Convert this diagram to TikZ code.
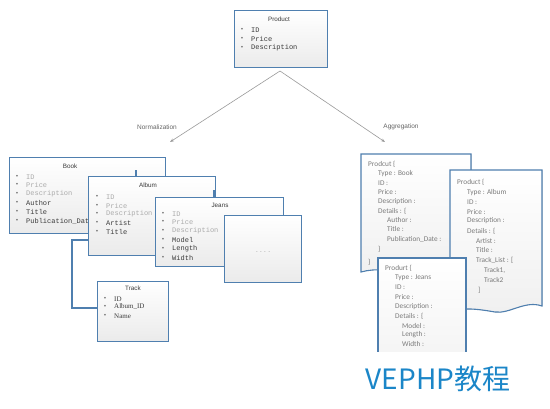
\documentclass[tikz,border=0pt]{standalone}
\usepackage{fontspec}
\setmainfont{Liberation Serif}
\newfontfamily\monof{Liberation Mono}
\newfontfamily\calib{Carlito}
\newfontfamily\cjkf{Noto Sans CJK SC}
\newfontfamily\sansf{Liberation Sans}
\usetikzlibrary{arrows.meta}
\definecolor{boxblue}{HTML}{4F7FAF}
\definecolor{darktxt}{HTML}{3A3A3A}
\definecolor{lighttxt}{HTML}{ABABAB}
\definecolor{doctxt}{HTML}{7A7A7A}
\definecolor{wmblue}{HTML}{1B86C8}
\definecolor{arrowgray}{HTML}{9A9A9A}
\tikzset{
  boxst/.style={draw=boxblue, line width=1.1pt, top color=white, bottom color=gray!16, rectangle, anchor=north west, inner sep=0pt},
  docst/.style={draw=boxblue, line width=1.1pt, top color=white, bottom color=gray!12},
  ttl/.style={font=\sansf\fontsize{6.3}{7}\selectfont, text=darktxt, inner sep=0pt},
  itm/.style={anchor=west, inner sep=0pt, font=\monof\fontsize{7}{8}\selectfont},
  titm/.style={anchor=west, inner sep=0pt, font=\fontsize{7}{8}\selectfont},
  bul/.style={inner sep=0pt, font=\fontsize{7}{7}\selectfont, text=gray!80!black},
  dtx/.style={anchor=west, inner sep=0pt, font=\calib\fontsize{7.3}{8}\selectfont, text=doctxt},
  lbl/.style={inner sep=0pt, font=\sansf\fontsize{6.5}{7}\selectfont, text=gray!80!black},
  conn/.style={draw=boxblue, line width=1.1pt},
  arr/.style={draw=arrowgray, line width=0.6pt, -{Stealth[length=4pt,width=3pt]}}
}
\newcommand{\lstitem}[5]{%
  \node[bul] (#1b) at (#2,#3) {•};
  \node[itm, text=#4] (#1) at (#2+9,#3) {#5};}
\newcommand{\tlstitem}[5]{%
  \node[bul] (#1b) at (#2,#3) {•};
  \node[titm, text=#4] (#1) at (#2+9,#3) {#5};}
\begin{document}
\begin{tikzpicture}[x=1pt,y=-1pt]
\useasboundingbox (0,0) rectangle (550,408);
\fill[white] (0,0) rectangle (550,408);

% Product
\node[boxst, minimum width=93pt, minimum height=57pt] (prod) at (234,10) {};
\node[ttl] (prodt) at (279,19) {Product};
\lstitem{p1}{242}{30}{darktxt}{ID}
\lstitem{p2}{242}{39}{darktxt}{Price}
\lstitem{p3}{242}{48}{darktxt}{Description}

% arrows
\coordinate (src) at (280,71);
\coordinate (lend) at (170,142);
\coordinate (rend) at (385,142);
\draw[arr] (src) -- (lend);
\draw[arr] (src) -- (rend);
\node[lbl] (norm) at (157,127) {Normalization};
\node[lbl] (aggr) at (401,127) {Aggregation};

% Book
\node[boxst, minimum width=156pt, minimum height=76pt] (book) at (9,157) {};
\node[ttl] (bookt) at (70,166) {Book};
\lstitem{b1}{17}{177}{lighttxt}{ID}
\lstitem{b2}{17}{185}{lighttxt}{Price}
\lstitem{b3}{17}{194}{lighttxt}{Description}
\lstitem{b4}{17}{203}{darktxt}{Author}
\lstitem{b5}{17}{212}{darktxt}{Title}
\lstitem{b6}{17}{221}{darktxt}{Publication\_Date}

% short connector stubs
\coordinate (stubA) at (136,170);
\coordinate (stubAb) at (136,176);
\draw[conn] (stubA) -- (stubAb);

% elbow connector Album -> Track
\coordinate (ea) at (88,240);
\coordinate (eb) at (72,240);
\coordinate (ec) at (72,308);
\coordinate (ed) at (97,308);
\draw[conn] (ea) -- (eb) -- (ec) -- (ed);

% Album
\node[boxst, minimum width=127pt, minimum height=79pt] (album) at (88,176) {};
\node[ttl] (albumt) at (148,185) {Album};
\lstitem{a1}{97}{197}{lighttxt}{ID}
\lstitem{a2}{97}{206}{lighttxt}{Price}
\lstitem{a3}{97}{214}{lighttxt}{Description}
\lstitem{a4}{97}{223}{darktxt}{Artist}
\lstitem{a5}{97}{232}{darktxt}{Title}

\coordinate (stubJ) at (214,190);
\coordinate (stubJb) at (214,197);
\draw[conn] (stubJ) -- (stubJb);

% Jeans
\node[boxst, minimum width=128pt, minimum height=69pt] (jeans) at (155,197) {};
\node[ttl] (jeanst) at (220,205) {Jeans};
\lstitem{j1}{163}{214}{lighttxt}{ID}
\lstitem{j2}{163}{222}{lighttxt}{Price}
\lstitem{j3}{163}{231}{lighttxt}{Description}
\lstitem{j4}{163}{240}{darktxt}{Model}
\lstitem{j5}{163}{249}{darktxt}{Length}
\lstitem{j6}{163}{258}{darktxt}{Width}

% dots box
\node[boxst, minimum width=77pt, minimum height=67pt] (dots) at (224,215) {};
\node[ttl, text=gray] (dotst) at (263,252) {. . . .};

% Track
\node[boxst, minimum width=71pt, minimum height=60pt] (track) at (97,281) {};
\node[ttl] (trackt) at (133,288) {Track};
\tlstitem{t1}{105}{299}{darktxt}{ID}
\tlstitem{t2}{105}{307}{darktxt}{Album\_ID}
\tlstitem{t3}{105}{316}{darktxt}{Name}

% Document 1 (Book)
\filldraw[docst] (361,154) -- (471,154) -- (471,268) .. controls (450,262) and (432,276) .. (412,273) .. controls (392,270) and (375,268) .. (361,272) -- cycle;
\node[dtx] (d1a) at (368,164) {Prodcut \{};
\node[dtx] (d1b) at (378,174) {Type : Book};
\node[dtx] (d1c) at (378,183) {ID :};
\node[dtx] (d1d) at (378,192) {Price :};
\node[dtx] (d1e) at (378,202) {Description :};
\node[dtx] (d1f) at (378,211) {Details : \{};
\node[dtx] (d1g) at (387,220) {Author :};
\node[dtx] (d1h) at (387,229) {Title :};
\node[dtx] (d1i) at (387,239) {Publication\_Date :};
\node[dtx] (d1j) at (378,249) {\}};
\node[dtx] (d1k) at (368,262) {\}};

% Document 2 (Album)
\filldraw[docst] (450,170) -- (542,170) -- (542,306) .. controls (525,300) and (510,314) .. (495,312) .. controls (478,309) and (462,307) .. (450,312) -- cycle;
\node[dtx] (d2a) at (457,182) {Product \{};
\node[dtx] (d2b) at (467,193) {Type : Album};
\node[dtx] (d2c) at (467,202) {ID :};
\node[dtx] (d2d) at (467,212) {Price :};
\node[dtx] (d2e) at (467,221) {Description :};
\node[dtx] (d2f) at (467,231) {Details : \{};
\node[dtx] (d2g) at (476,241) {Artist :};
\node[dtx] (d2h) at (476,250) {Title :};
\node[dtx] (d2i) at (476,260) {Track\_List : [};
\node[dtx] (d2j) at (484,270) {Track1,};
\node[dtx] (d2k) at (484,280) {Track2};
\node[dtx] (d2l) at (478,290) {]};

% Document 3 (Jeans)
\filldraw[docst] (378,258) -- (466,258) -- (466,395) -- (378,395) -- cycle;
\node[dtx] (d3a) at (385,268) {Produrt \{};
\node[dtx] (d3b) at (395,278) {Type : Jeans};
\node[dtx] (d3c) at (395,287) {ID :};
\node[dtx] (d3d) at (395,297) {Price :};
\node[dtx] (d3e) at (395,307) {Description :};
\node[dtx] (d3f) at (395,316) {Details : \{};
\node[dtx] (d3g) at (402,326) {Model :};
\node[dtx] (d3h) at (402,335) {Length :};
\node[dtx] (d3i) at (402,344) {Width :};

% watermark
\fill[white] (340,352) rectangle (552,410);
\node[inner sep=0pt, font=\cjkf\fontsize{28}{30}\selectfont, text=wmblue] (wm) at (438,379) {VEPHP教程};
\end{tikzpicture}
\end{document}
